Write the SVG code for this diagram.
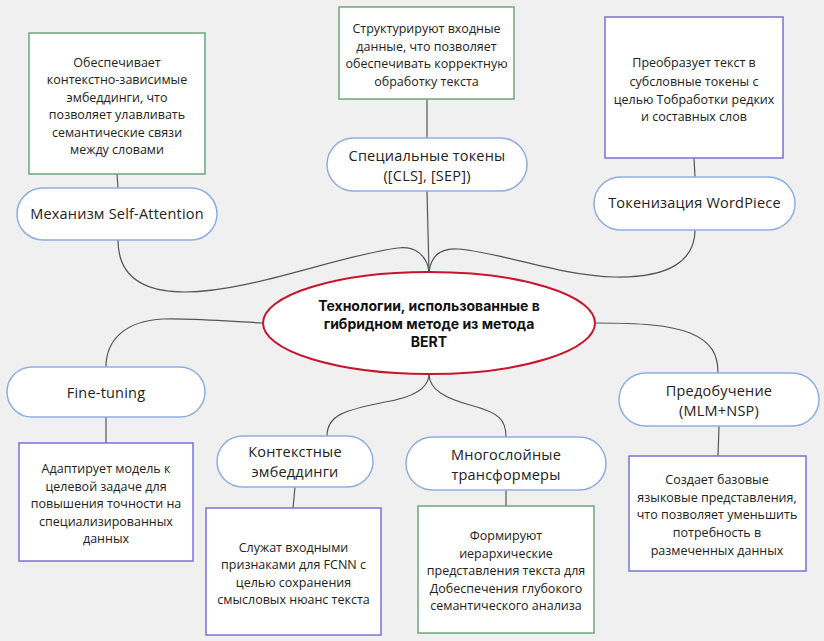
<svg xmlns="http://www.w3.org/2000/svg" width="824" height="641" viewBox="0 0 824 641">
<style>
.pill{fill:#fff;stroke:#8eaee0;stroke-width:1.5}
.bg{fill:#fff;stroke:#6fa57f;stroke-width:1.5}
.bp{fill:#fff;stroke:#7a70d6;stroke-width:1.5}
.pt{font-family:"Open Sans","Liberation Sans",sans-serif;font-size:14.5px;letter-spacing:0.2px;fill:#222;text-anchor:middle}
.bt{font-family:"Open Sans","Liberation Sans",sans-serif;font-size:12.5px;fill:#222;text-anchor:middle}
.tt{font-family:Inter,"Liberation Sans",sans-serif;font-size:14px;font-weight:700;fill:#111;text-anchor:middle}
.c{fill:none;stroke:#555;stroke-width:1.2}
</style>
<rect width="824" height="641" fill="#f0f0f0"/>
<g id="connectors">
<path class="c" d="M117 174 L118 188"/>
<path class="c" d="M427 99 L427 138"/>
<path class="c" d="M694 158 L695 177"/>
<path class="c" d="M427 191 L429 272"/>
<path class="c" d="M429 272 C427 255 415 246 398 248 C340 255 250 292 185 292 C135 292 118 270 118 240"/>
<path class="c" d="M429 272 C431 255 442 248 458 249 C500 252 560 276 615 277 C670 278 695 260 695 230"/>
<path class="c" d="M263 323 C220 321 190 318 163 319 C125 321 106 340 106 367"/>
<path class="c" d="M595 323 C640 323 670 325 690 333 C712 342 718 355 718 373"/>
<path class="c" d="M429 375 C428 390 410 398 385 402 C345 410 327 415 327 436"/>
<path class="c" d="M429 375 C430 390 445 398 470 405 C500 413 506 420 506 437"/>
<path class="c" d="M106 417 L106 443"/>
<path class="c" d="M295 487 L293 508"/>
<path class="c" d="M506 490 L506 506"/>
<path class="c" d="M719 426 L718 456"/>
</g>
<g id="center">
<ellipse cx="429" cy="323" rx="166" ry="51" fill="#fff" stroke="#c8142c" stroke-width="2"/>
<text class="tt" x="429" y="311">Технологии, использованные в</text>
<text class="tt" x="429" y="329">гибридном методе из метода</text>
<text class="tt" x="429" y="347">BERT</text>
</g>
<g id="box-attention">
<rect class="bg" x="29" y="33" width="176" height="141"/>
<text class="bt" x="117" y="66.5">Обеспечивает</text>
<text class="bt" x="117" y="83.5">контекстно-зависимые</text>
<text class="bt" x="117" y="101.5">эмбеддинги, что</text>
<text class="bt" x="117" y="118.5">позволяет улавливать</text>
<text class="bt" x="117" y="136.5">семантические связи</text>
<text class="bt" x="117" y="153.5">между словами</text>
</g>
<g id="node-attention">
<rect class="pill" x="17" y="188" width="200" height="52" rx="26"/>
<text class="pt" x="117" y="219">Механизм Self-Attention</text>
</g>
<g id="box-special">
<rect class="bg" x="339" y="7" width="175" height="92"/>
<text class="bt" x="426.5" y="32.5">Структурируют входные</text>
<text class="bt" x="426.5" y="50.5">данные, что позволяет</text>
<text class="bt" x="426.5" y="67.5">обеспечивать корректную</text>
<text class="bt" x="426.5" y="85.5">обработку текста</text>
</g>
<g id="node-special">
<rect class="pill" x="327" y="138" width="200" height="53" rx="26.5"/>
<text class="pt" x="427" y="161">Специальные токены</text>
<text class="pt" x="427" y="181">([CLS], [SEP])</text>
</g>
<g id="box-wordpiece">
<rect class="bp" x="605" y="17" width="178" height="141"/>
<text class="bt" x="694" y="66.5">Преобразует текст в</text>
<text class="bt" x="694" y="85.5">субсловные токены с</text>
<text class="bt" x="694" y="103.5">целью Тобработки редких</text>
<text class="bt" x="694" y="120.5">и составных слов</text>
</g>
<g id="node-wordpiece">
<rect class="pill" x="594" y="177" width="201" height="53" rx="26.5"/>
<text class="pt" x="694.5" y="208">Токенизация WordPiece</text>
</g>
<g id="node-finetuning">
<rect class="pill" x="7" y="367" width="198" height="50" rx="25"/>
<text class="pt" x="106" y="398">Fine-tuning</text>
</g>
<g id="box-finetuning">
<rect class="bp" x="19" y="443" width="174" height="118"/>
<text class="bt" x="106" y="472.5">Адаптирует модель к</text>
<text class="bt" x="106" y="490.5">целевой задаче для</text>
<text class="bt" x="106" y="507.5">повышения точности на</text>
<text class="bt" x="106" y="525.5">специализированных</text>
<text class="bt" x="106" y="542.5">данных</text>
</g>
<g id="node-context">
<rect class="pill" x="217" y="436" width="156" height="51" rx="25.5"/>
<text class="pt" x="295" y="457">Контекстные</text>
<text class="pt" x="295" y="477">эмбеддинги</text>
</g>
<g id="box-context">
<rect class="bp" x="206" y="508" width="175" height="127"/>
<text class="bt" x="293.5" y="551.5">Служат входными</text>
<text class="bt" x="293.5" y="568.5">признаками для FCNN с</text>
<text class="bt" x="293.5" y="586.5">целью сохранения</text>
<text class="bt" x="293.5" y="603.5">смысловых нюанс текста</text>
</g>
<g id="node-transformers">
<rect class="pill" x="406" y="437" width="200" height="53" rx="26.5"/>
<text class="pt" x="506" y="460">Многослойные</text>
<text class="pt" x="506" y="480">трансформеры</text>
</g>
<g id="box-transformers">
<rect class="bg" x="418" y="506" width="176" height="127"/>
<text class="bt" x="506" y="539.5">Формируют</text>
<text class="bt" x="506" y="557.5">иерархические</text>
<text class="bt" x="506" y="574.5">представления текста для</text>
<text class="bt" x="506" y="592.5">Добеспечения глубокого</text>
<text class="bt" x="506" y="609.5">семантического анализа</text>
</g>
<g id="node-pretraining">
<rect class="pill" x="619" y="373" width="200" height="53" rx="26.5"/>
<text class="pt" x="719" y="396">Предобучение</text>
<text class="pt" x="719" y="416">(MLM+NSP)</text>
</g>
<g id="box-pretraining">
<rect class="bp" x="629" y="456" width="177" height="115"/>
<text class="bt" x="717" y="483.5">Создает базовые</text>
<text class="bt" x="717" y="501.5">языковые представления,</text>
<text class="bt" x="717" y="518.5">что позволяет уменьшить</text>
<text class="bt" x="717" y="536.5">потребность в</text>
<text class="bt" x="717" y="554.5">размеченных данных</text>
</g>
</svg>
